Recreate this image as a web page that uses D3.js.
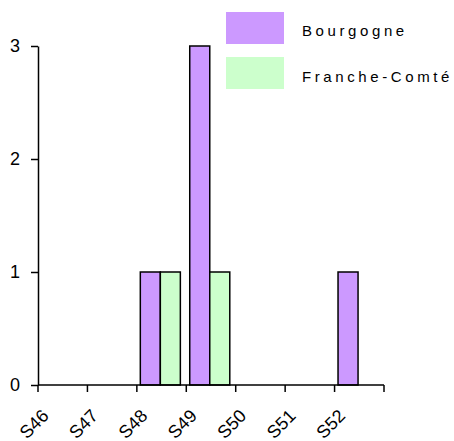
<!DOCTYPE html>
<html><head><meta charset="utf-8">
<script src="https://cdn.jsdelivr.net/npm/d3@7"></script>
<style>body{margin:0;background:#fff}svg{display:block}</style>
</head><body>
<script>
const categories = ["S46","S47","S48","S49","S50","S51","S52"];
const seriesNames = ["Bourgogne","Franche-Comté"];
const bourgogne = [0,0,1,3,0,0,1];
const franche = [0,0,1,1,0,0,0];
const yTicks = [0,1,2,3];
const colors = ["#CC99FF","#CCFFCC"];

(function(){
const W=454,H=441;
const svg=d3.select("body").append("svg").attr("width",W).attr("height",H);
const mL=38,mR=384,mT=46,mB=385;
const x=d3.scaleBand().domain(categories).range([mL,mR]).padding(0);
const bw=x.bandwidth();
const xs=d3.scaleBand().domain(seriesNames).range([bw*0.07,bw*0.88]).padding(0);
const y=d3.scaleLinear().domain([0,3]).range([mB,mT]);

const series=[bourgogne,franche];
const data=[];
categories.forEach((c,i)=>series.forEach((s,j)=>{ if(s[i]>0) data.push({c,name:seriesNames[j],v:s[i],col:colors[j]}); }));

svg.append("g").selectAll("rect").data(data).join("rect")
  .attr("x",d=>x(d.c)+xs(d.name)).attr("width",xs.bandwidth())
  .attr("y",d=>y(d.v)).attr("height",d=>y(0)-y(d.v))
  .attr("fill",d=>d.col).attr("stroke","#000").attr("stroke-width",1.5);

const ya=svg.append("g").attr("transform",`translate(${mL},0)`)
  .call(d3.axisLeft(y).tickValues(yTicks).tickFormat(d3.format("d")).tickSize(7).tickPadding(11).tickSizeOuter(0));
ya.select(".domain").attr("stroke","#000").attr("stroke-width",1.5);
ya.selectAll(".tick line").attr("stroke-width",1.5);
ya.selectAll("text").attr("font-family","Liberation Sans, Arial, sans-serif").attr("font-size",18).attr("fill","#000");

svg.append("line").attr("x1",mL).attr("x2",mR).attr("y1",mB).attr("y2",mB).attr("stroke","#000").attr("stroke-width",1.5);
const bounds=categories.map(c=>x(c)).concat([x(categories[categories.length-1])+bw]);
svg.append("g").selectAll("line").data(bounds).join("line")
  .attr("x1",d=>d).attr("x2",d=>d).attr("y1",mB).attr("y2",mB+7).attr("stroke","#000").attr("stroke-width",1.5);
svg.append("g").selectAll("text").data(categories).join("text")
  .attr("transform",c=>`translate(${x(c)+bw/2-13},${mB+32}) rotate(-45)`)
  .attr("text-anchor","end")
  .attr("font-family","Liberation Sans, Arial, sans-serif").attr("font-size",18).attr("fill","#000")
  .text(c=>c);

const lg=svg.append("g");
seriesNames.forEach((n,i)=>{
  lg.append("rect").attr("x",226).attr("y",12+i*45).attr("width",58).attr("height",32).attr("fill",colors[i]);
  lg.append("text").attr("x",302).attr("y",36+i*45.5)
    .attr("font-family","Liberation Sans, Arial, sans-serif").attr("font-size",15).attr("letter-spacing",3.6)
    .attr("fill","#000").text(n);
});
})();
</script>
</body></html>
